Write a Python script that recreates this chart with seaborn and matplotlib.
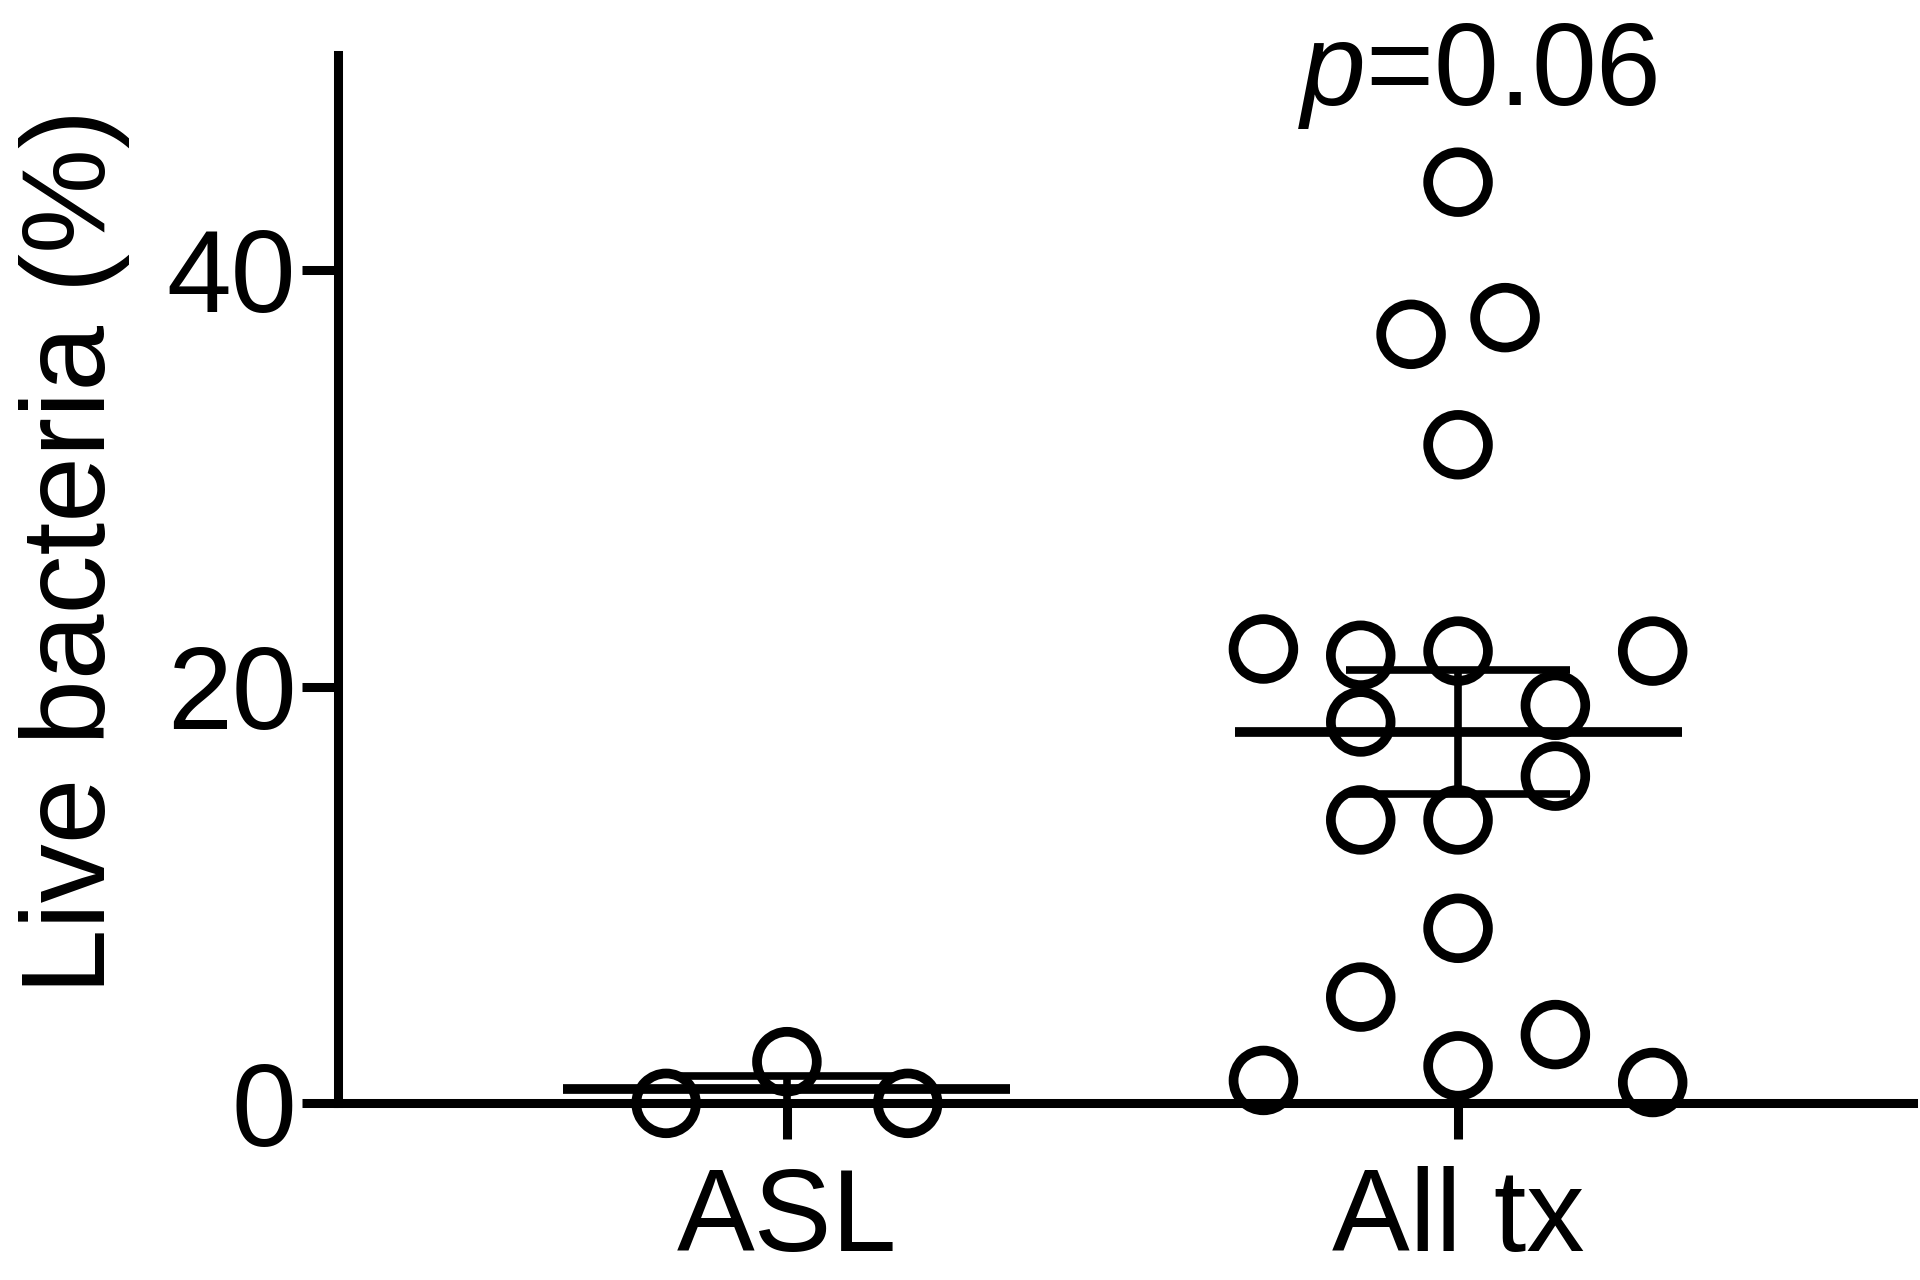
import numpy as np
import pandas as pd
import matplotlib
matplotlib.use("Agg")
import matplotlib.pyplot as plt
import seaborn as sns

# values (Live bacteria, %)
groups = ["ASL", "All tx"]
asl_vals = [0.0, 2.0, 0.0]
asl_offs = [-0.18, 0.0, 0.18]
alltx_vals = [44.2, 36.9, 37.7, 31.6, 21.8, 21.5, 21.7, 21.7, 18.3, 19.1,
              15.7, 13.6, 13.6, 8.4, 5.1, 3.3, 1.1, 1.8, 1.0]
alltx_offs = [0.0, -0.07, 0.07, 0.0, -0.29, -0.145, 0.0, 0.29, -0.145, 0.145,
              0.145, -0.145, 0.0, 0.0, -0.145, 0.145, -0.29, 0.0, 0.29]
p_text = "$p$=0.06"

sns.set_style("ticks")
plt.rcParams['font.family'] = ['Liberation Sans', 'DejaVu Sans']
plt.rcParams['mathtext.fontset'] = 'custom'
plt.rcParams['mathtext.it'] = 'Liberation Sans:italic'
plt.rcParams['mathtext.rm'] = 'Liberation Sans'
plt.rcParams['text.color'] = 'black'
plt.rcParams['axes.labelcolor'] = 'black'
plt.rcParams['xtick.color'] = 'black'
plt.rcParams['ytick.color'] = 'black'

df = pd.DataFrame({
    "group": ["ASL"] * len(asl_vals) + ["All tx"] * len(alltx_vals),
    "value": asl_vals + alltx_vals,
    "off": asl_offs + alltx_offs,
})
df["xpos"] = df["group"].map({g: i for i, g in enumerate(groups)}) + df["off"]

fig = plt.figure(figsize=(19.2, 12.8), dpi=100)
ax = fig.add_axes([0.176, 0.138, 0.8204, 0.819])

lw = 6.5
sns.scatterplot(data=df, x="xpos", y="value", ax=ax, marker="o", s=1850,
                facecolors="none", edgecolor="black", linewidth=7,
                clip_on=False, zorder=3, legend=False)

# mean and SEM
for i, g in enumerate(groups):
    v = df.loc[df.group == g, "value"].to_numpy()
    m = v.mean()
    se = v.std(ddof=1) / np.sqrt(len(v))
    ax.hlines(m, i - 0.333, i + 0.333, color="black", lw=7, zorder=4)
    ax.hlines([m - se, m + se], i - 0.167, i + 0.167, color="black", lw=5.5, zorder=4)
    ax.vlines(i, m - se, m + se, color="black", lw=5.5, zorder=4)

ax.text(1.03, 47.9, p_text, ha="center", va="baseline", fontsize=84)

ax.set_xlim(-0.669, 1.678)
ax.set_ylim(0, 50.3)
ax.set_xticks([0, 1])
ax.set_xticklabels(groups)
ax.set_yticks([0, 20, 40])
ax.set_xlabel("")
ax.set_ylabel("Live bacteria (%)", fontsize=85)
ax.yaxis.set_label_coords(-0.132, 0.527)
ax.tick_params(axis="both", labelsize=84, width=lw, length=26)
ax.tick_params(axis="x", pad=19)
ax.tick_params(axis="y", pad=4)
sns.despine(ax=ax)
for s in ["left", "bottom"]:
    ax.spines[s].set_linewidth(lw)
    ax.spines[s].set_color("black")
    ax.spines[s].set_capstyle("projecting")

fig.savefig("out.png", dpi=100)
